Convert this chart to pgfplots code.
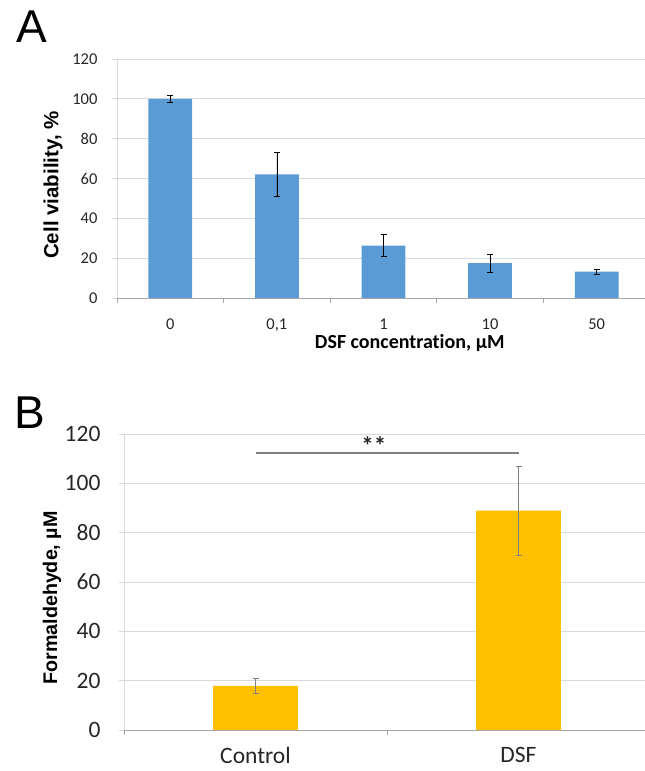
\documentclass[border=0pt]{standalone}
\usepackage{pgfplots}
\pgfplotsset{compat=1.18}
\usepackage{fontspec}
\setmainfont{Carlito}[Ligatures=NoCommon]
\newfontfamily\arialfont{Liberation Sans}
\definecolor{barblue}{HTML}{5B9BD5}
\definecolor{baryellow}{HTML}{FFC000}
\definecolor{gridgray}{HTML}{D9D9D9}
\definecolor{axgray}{HTML}{A6A6A6}
\definecolor{txtgray}{HTML}{262626}

\pgfplotsset{
  excelbar/.style={
    scale only axis,
    axis lines*=left,
    ymin=0, ymax=120,
    ytick={0,20,...,120},
    ymajorgrids=true,
    grid style={gridgray, line width=0.8pt},
    x axis line style={draw=axgray, line width=0.8pt},
    y axis line style={draw=gridgray, line width=0.8pt},
    major x tick style={draw=none},
    minor x tick style={draw=axgray, line width=0.8pt},
    minor tick length=5pt,
    major tick length=5pt,
    y tick style={draw=gridgray, line width=0.8pt},
    tick align=outside,
    /pgf/number format/assume math mode=true,
    ticklabel style={text=txtgray},
    ybar,
    error bars/error bar style={black, line width=0.6pt},
    error bars/error mark options={black, line width=0.6pt, mark size=3pt, rotate=90},
  }
}

\begin{document}
\begin{tikzpicture}
\path[use as bounding box] (0pt,0pt) rectangle (645pt,771pt);

\node[font=\arialfont\fontsize{46}{50}\selectfont, anchor=center] at (31.5pt,744.5pt) {A};
\node[font=\arialfont\fontsize{46}{50}\selectfont, anchor=center] at (30pt,358pt) {B};

% Panel A
\begin{axis}[
  excelbar,
  at={(117pt,473pt)}, anchor=south west,
  width=533pt, height=239pt,
  xmin=-0.5, xmax=4.5,
  xtick={0,1,2,3,4},
  xticklabels={0,{0,1},1,10,50},
  minor xtick={-0.5,0.5,1.5,2.5,3.5,4.5},
  bar width=0.41,
  tick label style={font=\fontsize{16.5}{18}\selectfont},
  xticklabel style={yshift=-12pt},
  yticklabel style={xshift=-11pt},
  xlabel={\bfseries DSF concentration, µM},
  ylabel={\bfseries Cell viability, \%},
  xlabel style={font=\fontsize{20}{22}\selectfont, inner sep=0pt,
    at={(axis description cs:0.371,0)}, anchor=north west, yshift=-36pt},
  ylabel style={font=\arialfont\fontsize{20.5}{22}\selectfont,
    at={(axis description cs:-0.120,0.473)}, anchor=center},
]
\addplot[fill=barblue, draw=none,
  error bars/.cd, y dir=both, y explicit]
  coordinates {
  (0,100) +- (0,1.9)
  (1,62.1) +- (0,11.1)
  (2,26.3) +- (0,5.6)
  (3,17.5) +- (0,4.5)
  (4,13.2) +- (0,1.2)
  };
\end{axis}

% Panel B
\begin{axis}[
  excelbar,
  at={(124pt,41pt)}, anchor=south west,
  width=526pt, height=296pt,
  xmin=-0.5, xmax=1.5,
  xtick={0,1},
  xticklabels={Control,DSF},
  minor xtick={-0.5,0.5,1.5},
  bar width=0.323,
  tick label style={font=\fontsize{23.5}{25}\selectfont},
  xticklabel style={yshift=-9pt},
  yticklabel style={xshift=-15pt},
  ylabel={\bfseries Formaldehyde, µM},
  ylabel style={font=\arialfont\fontsize{19.7}{22}\selectfont,
    at={(axis description cs:-0.137,0.446)}, anchor=center},
]
\addplot[fill=baryellow, draw=none,
  error bars/.cd, y dir=both, y explicit,
  error bar style={black!50, line width=0.6pt},
  error mark options={black!50, line width=0.6pt, mark size=3pt, rotate=90}]
  coordinates {
  (0,17.9) +- (0,3.0)
  (1,88.9) +- (0,18.2)
  };
\draw[black!50, line width=1.8pt] (axis cs:0,112.3) -- (axis cs:1,112.3);
\node[font=\bfseries\fontsize{25}{27}\selectfont, text=txtgray, anchor=base, inner sep=0pt]
  at (axis cs:0.45,111.6) {**};
\end{axis}
\end{tikzpicture}
\end{document}
